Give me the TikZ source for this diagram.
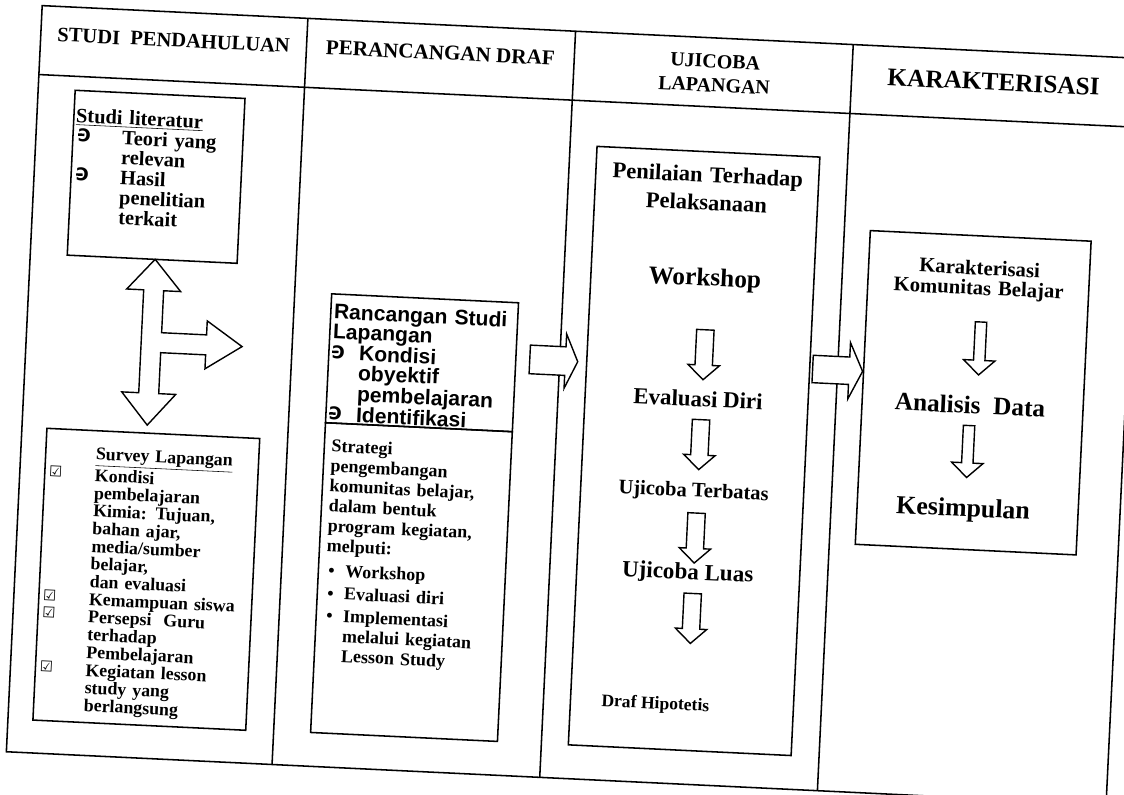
\documentclass[tikz,border=0pt]{standalone}
\usepackage{fontspec}
\setmainfont{Liberation Serif}
\setsansfont{Liberation Sans}
\newfontfamily\dejavu{DejaVu Sans}
\usetikzlibrary{shapes.arrows,positioning}

\newcommand{\hookbul}{\raisebox{1pt}{\dejavu\bfseries\fontsize{12.5}{12.5}\selectfont
  \makebox[0pt][l]{\rule[0.3em]{0.36em}{0.14em}}Ɔ}}
\newcommand{\chkbox}{\leavevmode\llap{\makebox[32.7pt][l]{\raisebox{2pt}{\dejavu\fontsize{10.5}{10.5}\selectfont ☑}}}}
\newcommand{\bulletcol}[2]{\makebox[#1][l]{#2}}

\begin{document}
\begin{tikzpicture}[x=0.025cm,y=0.025cm,
  frame/.style={line width=1.1pt},
  box/.style={draw,line width=1.1pt,outer sep=0pt,inner sep=0pt,anchor=north west},
  lbl/.style={inner sep=0pt,anchor=base},
  txt/.style={inner sep=0pt,anchor=base west,align=left},
  blk/.style={draw,line width=1pt,fill=white,single arrow,inner xsep=0pt,outer sep=0pt,anchor=tail},
  darr/.style={blk,rotate=-90,minimum height=1.25cm,minimum width=0.75cm,
    inner ysep=0.2cm,single arrow head extend=0.175cm,single arrow tip angle=94},
  thinarr/.style={darr,inner ysep=0.125cm,single arrow head extend=0.25cm}]
\useasboundingbox (0,0) rectangle (1124,795);
\begin{scope}[rotate around={-2.75:(562,398)},transform shape]
% table frame
\draw[frame] (24,17) rectangle (1125,764);
\draw[frame] (24,695) -- (1125,695);
\foreach \x in {290,558,836}
  \draw[frame] (\x,17) -- (\x,764);

% column headings
\node[lbl,font=\fontsize{14.6}{17}\selectfont\bfseries] (h1) at (157,729) {STUDI\ \ PENDAHULUAN};
\node[lbl,font=\fontsize{15}{17}\selectfont\bfseries] (h2) at (424,729) {PERANCANGAN DRAF};
\node[lbl,font=\fontsize{14.2}{17}\selectfont\bfseries,text width=150pt,align=center] (h3) at (699,734) {UJICOBA\\LAPANGAN};
\node[lbl,font=\fontsize{18}{20}\selectfont\bfseries] (h4) at (978,725) {KARAKTERISASI};

% studi pendahuluan
\node[box,minimum width=4.25cm,minimum height=4.125cm] (lit) at (61,681) {};
\node[txt,font=\fontsize{14.5}{14.2}\selectfont\bfseries,text width=150pt] (littxt) at (63,649) {%
\underline{Studi literatur}\\
\bulletcol{33.4pt}{\hspace{2pt}\hookbul}Teori yang\\
\bulletcol{33.4pt}{}relevan\\
\bulletcol{33.4pt}{\hspace{2pt}\hookbul}Hasil\\
\bulletcol{33.4pt}{}penelitian\\
\bulletcol{33.4pt}{}terkait};
\draw[line width=1pt,fill=white] (149,516) -- (176,485) -- (159,485) -- (159,443) -- (204,443)
  -- (204,457) -- (240,433) -- (204,409) -- (204,423) -- (159,423) -- (159,382)
  -- (176,382) -- (149,350) -- (122,382) -- (139,382) -- (139,485) -- (122,485) -- cycle;
\node[box,minimum width=5.325cm,minimum height=7.3cm] (sur) at (49,342) {};
\node[txt,font=\fontsize{12.7}{12.6}\selectfont\bfseries,text width=150pt] (surtxt) at (99,313) {%
\underline{Survey Lapangan}\\
\chkbox Kondisi\\
pembelajaran\\
Kimia: Tujuan,\\
bahan ajar,\\
media/sumber\\
belajar,\\
dan evaluasi\\
\chkbox Kemampuan siswa\\
\chkbox Persepsi\ \ Guru\\
terhadap\\
Pembelajaran\\
\chkbox Kegiatan lesson\\
study yang\\
berlangsung};

% perancangan draf
\node[box,minimum width=4.675cm,minimum height=3.225cm] (rsl) at (327,490) {};
\node[box,minimum width=4.675cm,minimum height=7.75cm] (stg) at (rsl.south west) {};
\node[txt,font=\fontsize{15}{13.9}\selectfont\sffamily\bfseries,text width=140pt] (rsltxt) at (330,465) {%
Rancangan Studi\\
Lapangan\\
\bulletcol{19.2pt}{\hookbul}Kondisi\\
\bulletcol{19.2pt}{}obyektif\\
\bulletcol{19.2pt}{}pembelajaran\\
\bulletcol{19.2pt}{\hookbul}Identifikasi};
\node[txt,font=\fontsize{12.8}{14.2}\selectfont\bfseries,text width=140pt] (stgtxt) at (334,332) {%
Strategi\\
pengembangan\\
komunitas belajar,\\
dalam bentuk\\
program kegiatan,\\
melputi:\\[3.5pt]
\bulletcol{14pt}{\hspace{2pt}•}Workshop\\[1.8pt]
\bulletcol{14pt}{\hspace{2pt}•}Evaluasi diri\\[1.8pt]
\bulletcol{14pt}{\hspace{2pt}•}Implementasi\\
\bulletcol{14pt}{}melalui kegiatan\\
\bulletcol{14pt}{}Lesson Study};
\node[blk,minimum height=1.2cm,minimum width=1.325cm,inner ysep=0.34cm,
  single arrow head extend=0.3225cm,single arrow tip angle=131] (ra) at (528,434) {};

% ujicoba lapangan
\node[box,minimum width=5.575cm,minimum height=14.975cm] (uji) at (585,650) {};
\node[lbl,font=\fontsize{16}{19.9}\selectfont\bfseries,text width=200pt,align=center] (nil) at (697,619.5) {Penilaian Terhadap\\Pelaksanaan};
\node[lbl,font=\fontsize{18}{20}\selectfont\bfseries] (ws) at (699,516) {Workshop};
\node[darr] (d1) at (702,472) {};
\node[lbl,font=\fontsize{16.3}{18}\selectfont\bfseries] (ev) at (698,395) {Evaluasi Diri};
\node[darr] (d2) at (702,382) {};
\node[lbl,font=\fontsize{14.6}{17}\selectfont\bfseries] (ut) at (698,304.5) {Ujicoba Terbatas};
\node[darr] (d3) at (702,288.5) {};
\node[lbl,font=\fontsize{16.4}{18}\selectfont\bfseries] (ul) at (696,222) {Ujicoba Luas};
\node[darr] (d4) at (702,208) {};
\node[lbl,font=\fontsize{12.5}{15}\selectfont\bfseries] (dh) at (670,91) {Draf Hipotetis};
\node[blk,minimum height=1.25cm,minimum width=1.375cm,inner ysep=0.325cm,
  single arrow head extend=0.3625cm,single arrow tip angle=129] (rb) at (811,438) {};

% karakterisasi
\node[box,minimum width=5.525cm,minimum height=7.85cm] (kar) at (862,579) {};
\node[lbl,font=\fontsize{14.7}{14.2}\selectfont\bfseries,text width=160pt,align=center] (kk) at (973,540) {Karakterisasi\\Komunitas Belajar};
\node[thinarr,minimum height=1.325cm] (k1) at (977,493) {};
\node[lbl,font=\fontsize{18}{20}\selectfont\bfseries] (ad) at (970,401) {Analisis\ \ Data};
\node[thinarr,minimum height=1.3cm] (k2) at (970,389) {};
\node[lbl,font=\fontsize{18.4}{20}\selectfont\bfseries] (ks) at (968,298) {Kesimpulan};
\end{scope}
\end{tikzpicture}
\end{document}
